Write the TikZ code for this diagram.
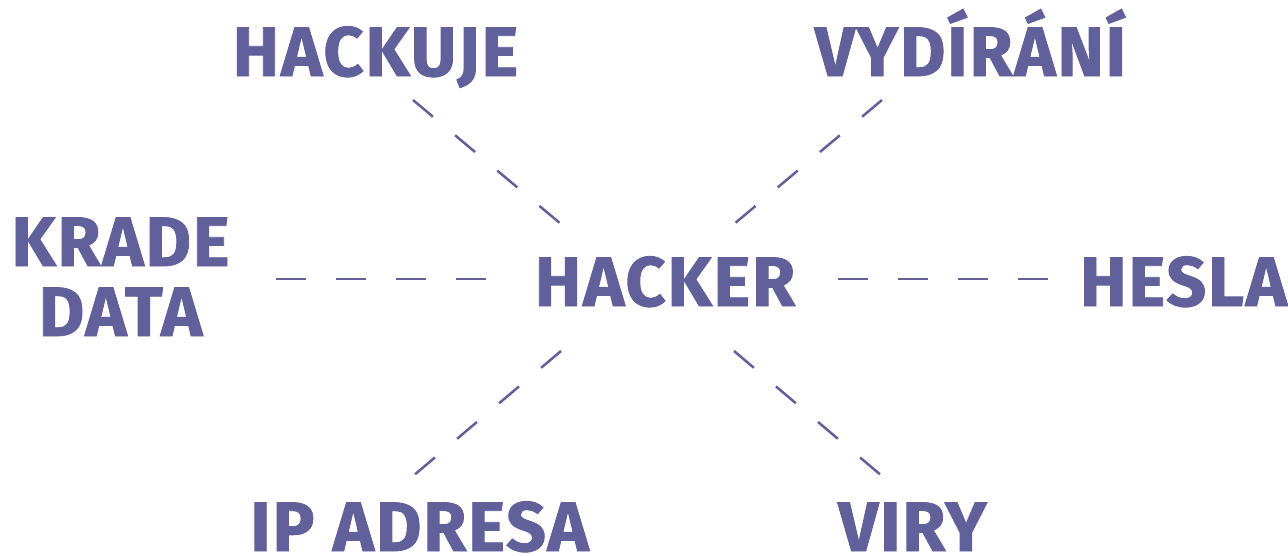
\documentclass[tikz,border=0pt]{standalone}
\usepackage{fontspec}
\setmainfont{Fira Sans}[UprightFont=* Bold,LetterSpace=2.5,FakeBold=1.2]
\definecolor{hk}{HTML}{62609B}
\begin{document}
\begin{tikzpicture}[x=1pt,y=-1pt,
  lbl/.style={text=hk,font=\fontsize{70}{70}\selectfont,inner sep=0pt,anchor=base},
  hdash/.style={draw=hk,line width=2.5pt,dash pattern=on 30pt off 30pt},
  ddash/.style={draw=hk,line width=2.5pt,dash pattern=on 26pt off 29pt}]
\useasboundingbox (0,0) rectangle (1288,555);
\node[lbl] (hacker) at (665,306) {HACKER};
\node[lbl] (hackuje) at (375.5,76) {HACKUJE};
\node[lbl] (vydirani) at (970.5,76) {VYDÍRÁNÍ};
\node[lbl] (krade) at (120.5,266) {KRADE};
\node[lbl] (data) at (120.5,336) {DATA};
\node[lbl] (hesla) at (1183.5,306) {HESLA};
\node[lbl] (ip) at (419.5,551) {IP ADRESA};
\node[lbl] (viry) at (912.5,551) {VIRY};
\coordinate (l1) at (276,279); \coordinate (l2) at (488,279);
\coordinate (r1) at (838,279); \coordinate (r2) at (1050,279);
\coordinate (a1) at (413,100); \coordinate (a2) at (561,224);
\coordinate (b1) at (882,100); \coordinate (b2) at (734,224);
\coordinate (c1) at (561,351); \coordinate (c2) at (413,476);
\coordinate (d1) at (734,351); \coordinate (d2) at (882,476);
\path[hdash] (l1) -- (l2);
\path[hdash] (r1) -- (r2);
\path[ddash] (a1) -- (a2);
\path[ddash] (b1) -- (b2);
\path[ddash] (c1) -- (c2);
\path[ddash] (d1) -- (d2);
\end{tikzpicture}
\end{document}
